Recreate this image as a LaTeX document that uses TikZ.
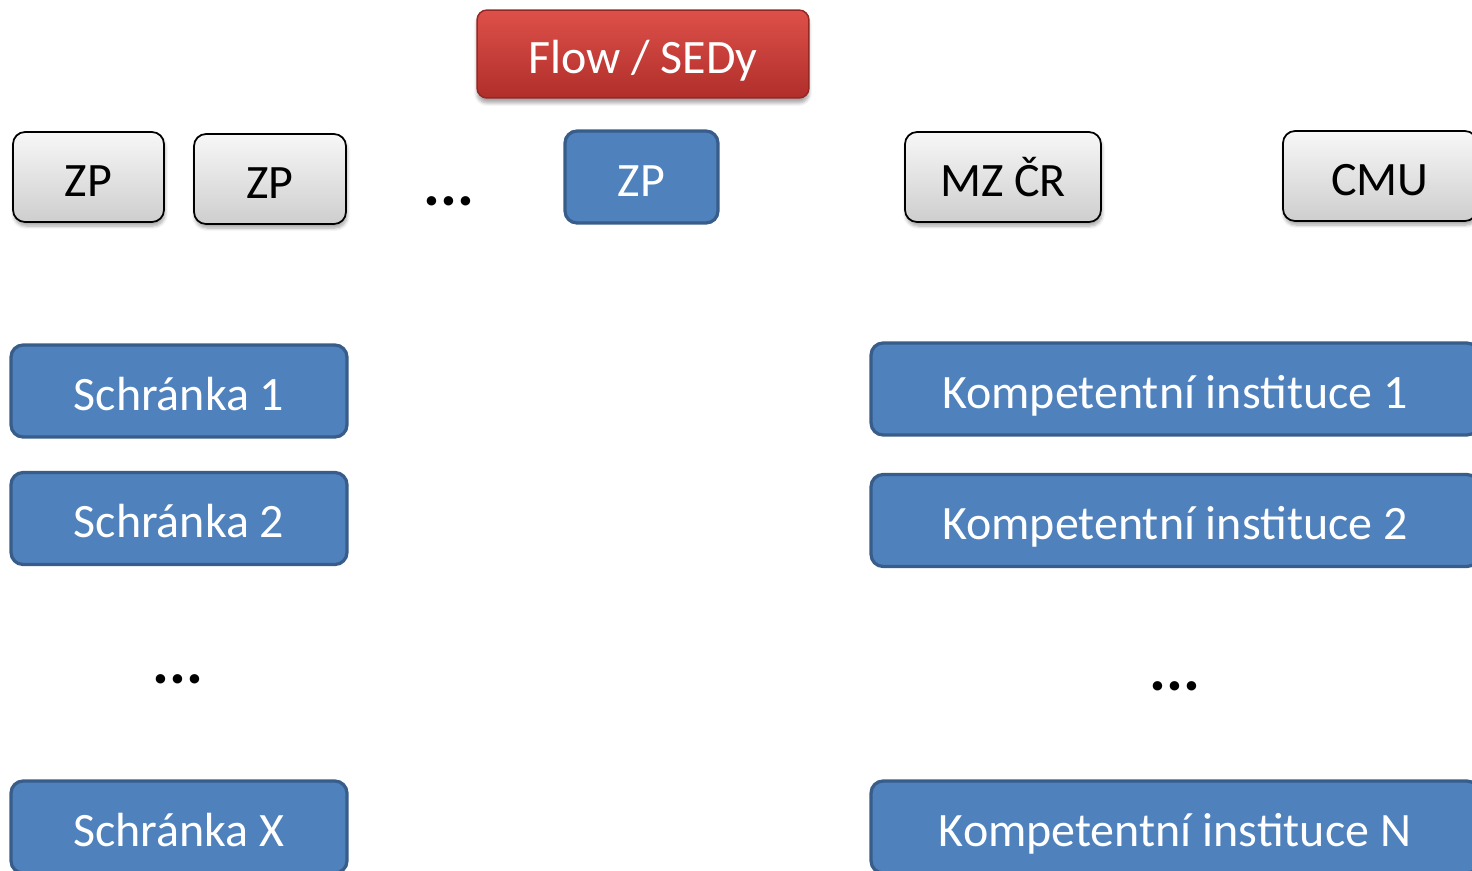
\documentclass[tikz,border=0pt]{standalone}
\usepackage{fontspec}
\setmainfont{Carlito}
\usetikzlibrary{shadows.blur}

\definecolor{boxblue}{RGB}{79,129,189}%
\definecolor{boxblueline}{RGB}{56,93,138}%
\definecolor{redtop}{RGB}{222,80,74}%
\definecolor{redbot}{RGB}{176,46,42}%
\definecolor{redline}{RGB}{150,40,36}%
\definecolor{graytop}{RGB}{247,247,247}%
\definecolor{graybot}{RGB}{206,206,206}%

\tikzset{
  boxtext/.style={font=\fontsize{27.3}{32}\selectfont, inner sep=0pt,
    text height=0.8cm, text depth=0.04cm},
  bluebox/.style={boxtext, rectangle, rounded corners=0.24cm, fill=boxblue,
    draw=boxblueline, line width=0.065cm, text=white},
  graybox/.style={boxtext, rectangle, rounded corners=0.24cm, top color=graytop,
    bottom color=graybot, draw=black, line width=0.035cm, text=black,
    blur shadow={shadow xshift=0.02cm, shadow yshift=-0.08cm, shadow blur steps=6, shadow opacity=35}},
  redbox/.style={boxtext, rectangle, rounded corners=0.2cm, top color=redtop,
    bottom color=redbot, draw=redline, line width=0.03cm, text=white,
    blur shadow={shadow xshift=0.0cm, shadow yshift=-0.1cm, shadow blur steps=6, shadow opacity=35}},
  dots/.style={font=\fontsize{36}{40}\selectfont\bfseries, inner sep=0pt, anchor=base}
}

\begin{document}
\begin{tikzpicture}[x=0.02cm, y=-0.02cm]
        \useasboundingbox (0,0) rectangle (1472,870);
        \clip (0,0) rectangle (1472,870);

        % Drawing top box Flow / SEDy
        \node [redbox, minimum width=6.64cm, minimum height=1.76cm] (flow) at (643,54) {Flow / SEDy};%

        % Drawing row of insurers and offices
        \node [graybox, minimum width=3.02cm, minimum height=1.80cm] (zpa) at (88.5,177) {ZP};%
        \node [graybox, minimum width=3.04cm, minimum height=1.80cm] (zpb) at (270,179) {ZP};%
        \node [dots] (zpdots) at (449,205) {...};%
        \node [bluebox, minimum width=3.06cm, minimum height=1.84cm] (zpc) at (641.5,177) {ZP};%
        \node [graybox, minimum width=3.92cm, minimum height=1.80cm] (mzcr) at (1003,177) {MZ ČR};%
        \node [graybox, minimum width=3.88cm, minimum height=1.80cm] (cmu) at (1380,176) {CMU};%

        % Drawing column of mailboxes
        \node [bluebox, minimum width=6.72cm, minimum height=1.84cm] (schr1) at (179,391) {Schránka 1};%
        \node [bluebox, minimum width=6.72cm, minimum height=1.84cm] (schr2) at (179,518.5) {Schránka 2};%
        \node [dots] (schrdots) at (178,683) {...};%
        \node [bluebox, minimum width=6.72cm, minimum height=1.84cm] (schrx) at (179,827) {Schránka X};%

        % Drawing column of institutions
        \node [bluebox, minimum width=12.16cm, minimum height=1.84cm] (inst1) at (1175,389) {Kompetentní instituce 1};%
        \node [bluebox, minimum width=12.16cm, minimum height=1.84cm] (inst2) at (1175,520.5) {Kompetentní instituce 2};%
        \node [dots] (instdots) at (1175,690) {...};%
        \node [bluebox, minimum width=12.16cm, minimum height=1.84cm] (instn) at (1175,827) {Kompetentní instituce N};%
    \end{tikzpicture}
\end{document}
